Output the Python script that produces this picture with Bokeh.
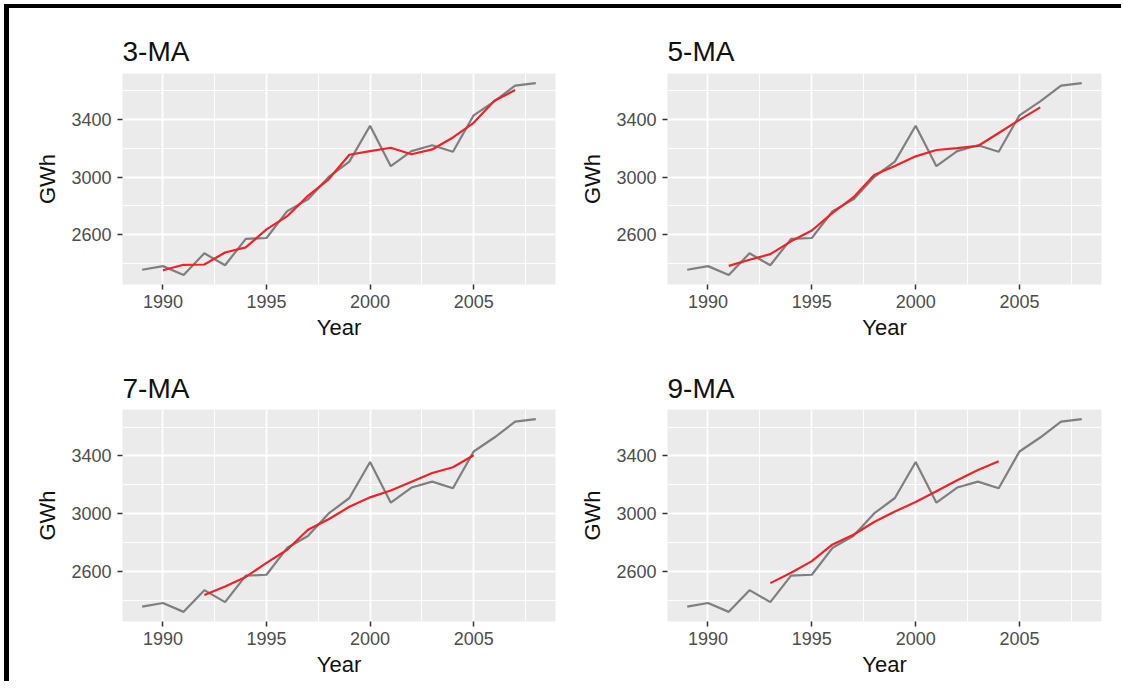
from bokeh.plotting import figure
from bokeh.layouts import column, row
from bokeh.models import Range1d, FixedTicker
from bokeh.embed import file_html
from bokeh.resources import INLINE

# Residential electricity sales (GWh)
years = [1989, 1990, 1991, 1992, 1993, 1994, 1995, 1996, 1997, 1998,
         1999, 2000, 2001, 2002, 2003, 2004, 2005, 2006, 2007, 2008]
sales = [2354.34, 2379.71, 2318.52, 2468.99, 2386.09, 2569.47, 2575.72, 2762.72, 2844.50, 3000.70,
         3108.10, 3357.50, 3075.70, 3180.60, 3221.60, 3176.20, 3430.60, 3527.48, 3637.89, 3655.00]

ma3_years = list(range(1990, 2008))
ma3_vals = [2350.86, 2389.07, 2391.20, 2474.85, 2510.43, 2635.97, 2727.65, 2869.31, 2984.43,
            3155.43, 3180.43, 3204.60, 3159.30, 3192.80, 3276.13, 3378.09, 3531.99, 3606.79]

ma5_years = list(range(1991, 2007))
ma5_vals = [2381.53, 2424.56, 2463.76, 2552.60, 2627.70, 2750.62, 2858.35, 3014.70,
            3077.30, 3144.52, 3188.70, 3202.32, 3216.94, 3307.30, 3398.75, 3485.43]

ma7_years = list(range(1992, 2006))
ma7_vals = [2436.12, 2494.46, 2560.86, 2658.31, 2749.61, 2888.39, 2960.71,
            3047.12, 3112.67, 3160.06, 3221.47, 3281.38, 3321.44, 3404.20]

ma9_years = list(range(1993, 2005))
ma9_vals = [2517.78, 2589.60, 2670.53, 2785.98, 2853.39, 2941.67,
            3014.13, 3080.85, 3155.06, 3230.94, 3301.74, 3362.51]

titles = ["3-MA", "5-MA", "7-MA", "9-MA"]
x_ticks = [1990, 1995, 2000, 2005]
x_minor = [1992.5, 1997.5, 2002.5, 2007.5]
y_ticks = [2600, 3000, 3400]
y_minor = [2400, 2800, 3200, 3600]

FONT = "Liberation Sans"
GREY = "#7F7F7F"
RED = "#F0222A"


def panel(title, mx, my, width, height, bl, br, bt, bb, standoff):
    p = figure(width=width, height=height, output_backend="svg", toolbar_location=None,
               x_range=Range1d(1988.05, 2008.95), y_range=Range1d(2251.7, 3721.8),
               min_border_left=bl, min_border_right=br, min_border_top=bt, min_border_bottom=bb)
    p.background_fill_color = "#EBEBEB"
    p.border_fill_color = "white"
    p.outline_line_color = None
    p.title.text = title
    p.title.text_font = FONT
    p.title.text_font_size = "28px"
    p.title.text_font_style = "normal"
    p.title.text_color = "#111111"
    p.title.align = "left"
    p.title.standoff = standoff

    p.xaxis.ticker = FixedTicker(ticks=x_ticks, minor_ticks=x_minor)
    p.yaxis.ticker = FixedTicker(ticks=y_ticks, minor_ticks=y_minor)
    for g in (p.xgrid, p.ygrid):
        g.grid_line_color = "white"
        g.grid_line_width = 1.8
        g.minor_grid_line_color = "white"
        g.minor_grid_line_width = 0.9
    for ax in (p.xaxis, p.yaxis):
        ax.axis_line_color = None
        ax.major_tick_line_color = "#333333"
        ax.major_tick_line_width = 1.5
        ax.major_tick_out = 5
        ax.major_tick_in = 0
        ax.minor_tick_line_color = None
        ax.major_label_text_font = FONT
        ax.major_label_text_font_size = "18px"
        ax.major_label_text_color = "#4D4D4D"
        ax.axis_label_text_font = FONT
        ax.axis_label_text_font_size = "22px"
        ax.axis_label_text_font_style = "normal"
        ax.axis_label_text_color = "#111111"
    p.xaxis.axis_label = "Year"
    p.yaxis.axis_label = "GWh"
    p.xaxis.major_label_standoff = 5
    p.xaxis.axis_label_standoff = 4
    p.yaxis.major_label_standoff = 6
    p.yaxis.axis_label_standoff = 8

    p.line(years, sales, line_color=GREY, line_width=2.2)
    p.line(mx, my, line_color=RED, line_width=2.2)
    return p


p1 = panel(titles[0], ma3_years, ma3_vals, 557, 339, 113, 11, 65, 63, 14)
p2 = panel(titles[1], ma5_years, ma5_vals, 552, 339, 101, 17, 65, 63, 14)
p3 = panel(titles[2], ma7_years, ma7_vals, 557, 334, 113, 11, 62, 60, 11)
p4 = panel(titles[3], ma9_years, ma9_vals, 552, 334, 101, 17, 62, 60, 11)

inner = column(row(p1, p2), row(p3, p4),
               styles={"border-top": "4px solid black", "border-left": "5px solid black",
                       "padding-right": "3px", "background-color": "white"})
layout = column(inner, styles={"padding-top": "4px", "padding-left": "4px",
                               "padding-bottom": "8px", "padding-right": "2px",
                               "background-color": "white"})

open("out.html", "w").write(file_html(layout, INLINE))
